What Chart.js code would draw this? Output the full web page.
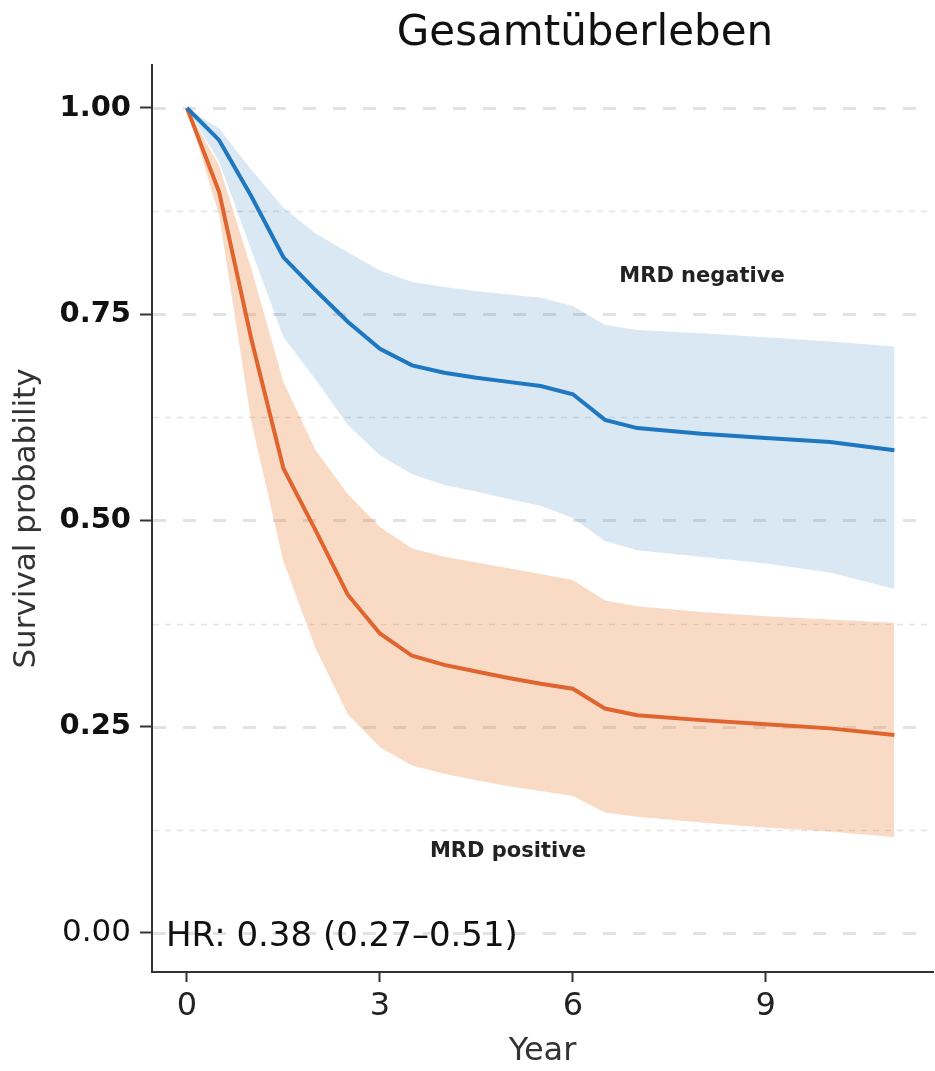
<!DOCTYPE html>
<html>
<head>
<meta charset="utf-8">
<script src="https://cdn.jsdelivr.net/npm/chart.js@4.4.1/dist/chart.umd.min.js"></script>
<style>
  html, body { margin: 0; padding: 0; background: #fff; }
  #wrap { width: 935px; height: 1071px; }
</style>
</head>
<body>
<div id="wrap"><canvas id="km" width="935" height="1071"></canvas></div>
<script>
// ----- Data -----
const years = [0, 0.5, 1, 1.5, 2, 2.5, 3, 3.5, 4, 4.5, 5, 5.5, 6, 6.5, 7, 8, 9, 10, 11];

// MRD negative
const negSurv  = [1.00, 0.961, 0.893, 0.819, 0.779, 0.741, 0.708, 0.688, 0.679, 0.673, 0.668, 0.663, 0.653, 0.622, 0.612, 0.605, 0.600, 0.595, 0.585];
const negUpper = [1.00, 0.975, 0.925, 0.879, 0.848, 0.825, 0.803, 0.789, 0.783, 0.778, 0.774, 0.770, 0.760, 0.737, 0.731, 0.727, 0.722, 0.717, 0.711];
const negLower = [1.00, 0.935, 0.828, 0.722, 0.671, 0.616, 0.579, 0.556, 0.543, 0.535, 0.526, 0.518, 0.503, 0.475, 0.464, 0.456, 0.448, 0.437, 0.417];

// MRD positive
const posSurv  = [1.00, 0.898, 0.720, 0.563, 0.488, 0.410, 0.363, 0.336, 0.325, 0.317, 0.309, 0.302, 0.296, 0.272, 0.264, 0.258, 0.253, 0.248, 0.240];
const posUpper = [1.00, 0.930, 0.805, 0.668, 0.585, 0.532, 0.492, 0.466, 0.456, 0.449, 0.442, 0.435, 0.428, 0.403, 0.396, 0.389, 0.384, 0.380, 0.376];
const posLower = [1.00, 0.870, 0.620, 0.450, 0.345, 0.265, 0.225, 0.203, 0.193, 0.185, 0.178, 0.172, 0.166, 0.146, 0.141, 0.134, 0.128, 0.123, 0.116];

const xTickValues = [0, 3, 6, 9];
const yTickValues = [0, 0.25, 0.5, 0.75, 1];

const FONT = "'DejaVu Sans', sans-serif";

function pts(arr) {
  return years.map((x, i) => ({ x: x, y: arr[i] }));
}

// dashed horizontal guides at every tick and halfway between
const gridPlugin = {
  id: "dashGrid",
  beforeDatasetsDraw(chart) {
    const ctx = chart.ctx;
    const y = chart.scales.y;
    const area = chart.chartArea;
    const guides = [];
    yTickValues.forEach((v, i) => {
      guides.push({ v: v, major: true });
      if (i < yTickValues.length - 1) guides.push({ v: (v + yTickValues[i + 1]) / 2, major: false });
    });
    ctx.save();
    guides.forEach(g => {
      const py = Math.round(y.getPixelForValue(g.v)) + 0.5;
      ctx.beginPath();
      if (g.major) {
        ctx.strokeStyle = "#e2e2e2";
        ctx.lineWidth = 3;
        ctx.setLineDash([13, 17]);
      } else {
        ctx.strokeStyle = "#e4e4e4";
        ctx.lineWidth = 1.5;
        ctx.setLineDash([6, 6]);
      }
      ctx.moveTo(area.left + 1, py);
      ctx.lineTo(area.right, py);
      ctx.stroke();
    });
    ctx.restore();
  }
};

// title and notes
const textPlugin = {
  id: "notes",
  afterDraw(chart) {
    const ctx = chart.ctx;
    ctx.save();
    ctx.fillStyle = "#111";
    ctx.textBaseline = "alphabetic";

    ctx.textAlign = "center";
    ctx.font = "42px " + FONT;
    ctx.fillText("Gesamtüberleben", 585, 45);

    ctx.font = "bold 21px " + FONT;
    ctx.fillStyle = "#222";
    ctx.fillText("MRD negative", 702, 282);
    ctx.fillText("MRD positive", 508, 857);

    ctx.textAlign = "left";
    ctx.font = "34px " + FONT;
    ctx.fillStyle = "#111";
    ctx.fillText("HR: 0.38 (0.27\u20130.51)", 166, 946);
    ctx.restore();
  }
};

const blueLine = "#1f77c0";
const orangeLine = "#e0642e";

new Chart(document.getElementById("km"), {
  type: "line",
  data: {
    datasets: [
      { label: "MRD negative", data: pts(negSurv), borderColor: blueLine, borderWidth: 4, pointRadius: 0, fill: false },
      { label: "MRD positive", data: pts(posSurv), borderColor: orangeLine, borderWidth: 4, pointRadius: 0, fill: false },
      { label: "pos upper", data: pts(posUpper), borderWidth: 0, pointRadius: 0, fill: "+1", backgroundColor: "rgba(230,120,40,0.27)" },
      { label: "pos lower", data: pts(posLower), borderWidth: 0, pointRadius: 0, fill: false },
      { label: "neg upper", data: pts(negUpper), borderWidth: 0, pointRadius: 0, fill: "+1", backgroundColor: "rgba(31,119,180,0.17)" },
      { label: "neg lower", data: pts(negLower), borderWidth: 0, pointRadius: 0, fill: false }
    ]
  },
  options: {
    responsive: false,
    animation: false,
    layout: { padding: { top: 65, right: 2, left: 0, bottom: 0 } },
    plugins: {
      legend: { display: false },
      tooltip: { enabled: false },
      title: { display: false }
    },
    scales: {
      x: {
        type: "linear",
        min: -0.544,
        max: 11.6,
        afterBuildTicks: s => { s.ticks = xTickValues.map(v => ({ value: v })); },
        afterFit: s => { s.height = 99; },
        grid: { drawOnChartArea: false, drawTicks: true, tickLength: 10, tickWidth: 2, tickColor: "#333" },
        border: { display: true, color: "#333", width: 2 },
        ticks: { font: { family: FONT, size: 32 }, color: "#222", padding: 5, maxRotation: 0, autoSkip: false },
        title: { display: true, text: "Year", font: { family: FONT, size: 32 }, color: "#333", padding: { top: 0, bottom: 0 } }
      },
      y: {
        type: "linear",
        min: -0.0473,
        max: 1.0521,
        afterBuildTicks: s => { s.ticks = yTickValues.map(v => ({ value: v })); },
        afterFit: s => { s.width = 152; },
        grid: { drawOnChartArea: false, drawTicks: true, tickLength: 12, tickWidth: 2, tickColor: "#333" },
        border: { display: true, color: "#333", width: 2 },
        ticks: {
          callback: v => v.toFixed(2),
          font: c => ({ family: FONT, size: c.tick && c.tick.value === 0 ? 31 : 29, weight: c.tick && c.tick.value === 0 ? "normal" : "bold" }),
          color: "#111",
          padding: 9,
          autoSkip: false
        },
        title: { display: true, text: "Survival probability", font: { family: FONT, size: 31 }, color: "#333", padding: { top: 8, bottom: 0 } }
      }
    }
  },
  plugins: [gridPlugin, textPlugin]
});
</script>
</body>
</html>
